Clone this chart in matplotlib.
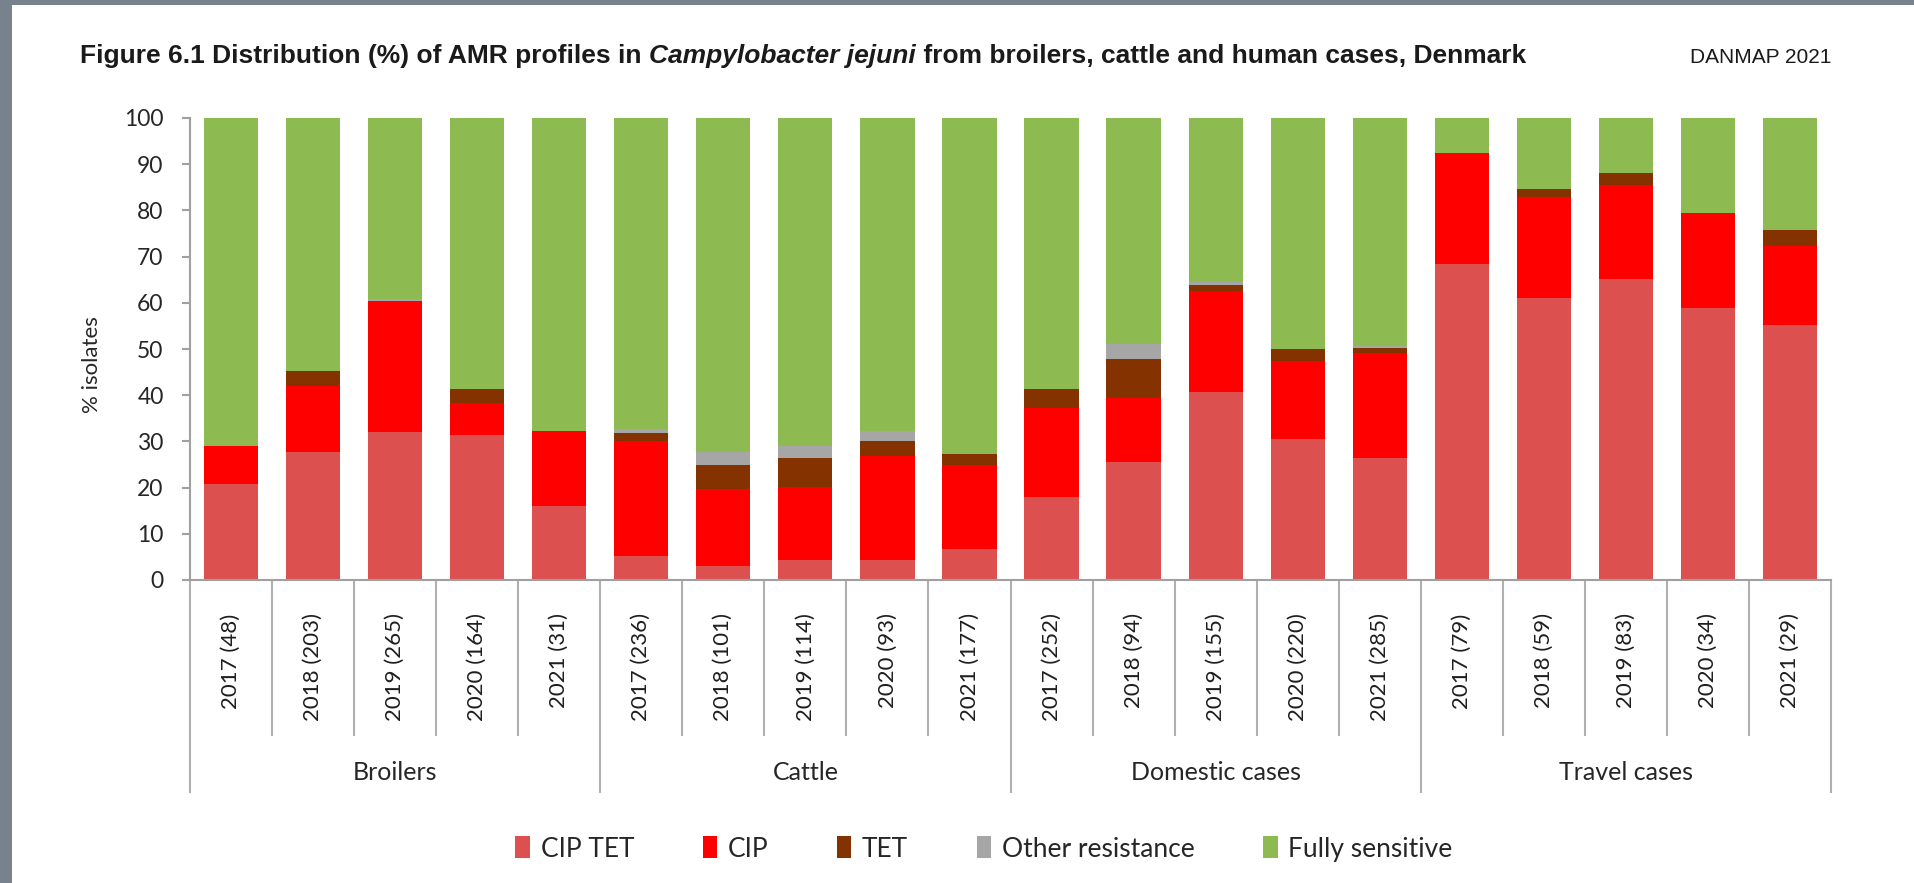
import matplotlib
matplotlib.use("Agg")
import matplotlib.pyplot as plt
from matplotlib.patches import Rectangle
from matplotlib.transforms import blended_transform_factory

groups = ["Broilers", "Cattle", "Domestic cases", "Travel cases"]
years = ["2017", "2018", "2019", "2020", "2021"]
n_isolates = [48, 203, 265, 164, 31,
              236, 101, 114, 93, 177,
              252, 94, 155, 220, 285,
              79, 59, 83, 34, 29]

# % of isolates per resistance profile
cip_tet = [20.8, 27.6, 32.1, 31.4, 16.1,
           5.1, 3.0, 4.4, 4.3, 6.8,
           17.9, 25.5, 40.6, 30.5, 26.3,
           68.4, 61.0, 65.1, 58.8, 55.2]
cip = [8.3, 14.3, 28.3, 6.9, 16.1,
       25.0, 16.8, 15.8, 22.6, 18.1,
       19.4, 13.8, 22.0, 16.8, 22.8,
       24.1, 22.0, 20.5, 20.6, 17.2]
tet = [0.0, 3.4, 0.0, 3.0, 0.0,
       1.7, 5.0, 6.1, 3.2, 2.3,
       4.0, 8.5, 1.3, 2.7, 1.1,
       0.0, 1.7, 2.4, 0.0, 3.4]
other = [0.0, 0.0, 0.4, 0.0, 0.0,
         0.8, 3.0, 2.6, 2.2, 0.0,
         0.0, 3.2, 0.6, 0.0, 0.4,
         0.0, 0.0, 0.0, 0.0, 0.0]
fully_sensitive = [70.9, 54.7, 39.2, 58.7, 67.8,
                   67.4, 72.2, 71.1, 67.7, 72.8,
                   58.7, 49.0, 35.5, 50.0, 49.4,
                   7.5, 15.3, 12.0, 20.6, 24.2]

series = [("CIP TET", cip_tet, "#dc5050"),
          ("CIP", cip, "#ff0000"),
          ("TET", tet, "#843200"),
          ("Other resistance", other, "#a6a6a6"),
          ("Fully sensitive", fully_sensitive, "#8dbb51")]

W, H = 1914, 883
plt.rcParams["font.family"] = ["Lato", "DejaVu Sans"]
fig = plt.figure(figsize=(W / 100, H / 100), dpi=100)
fig.patch.set_facecolor("#78828c")
fig.patches.append(Rectangle((12 / W, 0), 1, 1 - 5 / H, transform=fig.transFigure,
                             facecolor="white", edgecolor="none", zorder=-10))

ax = fig.add_axes([190 / W, 1 - 580 / H, (1831 - 190) / W, (580 - 118) / H])
ax.set_facecolor("white")

x = list(range(len(n_isolates)))
bottom = [0.0] * len(x)
handles = []
for name, vals, color in series:
    b = ax.bar(x, vals, width=0.66, bottom=bottom, color=color, label=name, linewidth=0)
    handles.append(b)
    bottom = [bo + v for bo, v in zip(bottom, vals)]

ax.set_xlim(-0.5, len(x) - 0.5)
ax.set_ylim(0, 100)
ax.set_yticks(range(0, 101, 10))
ax.tick_params(axis="y", labelsize=16.5, colors="#a0a0a0", labelcolor="#262626",
               length=6, width=1.5, pad=13)

labels = [f"{years[i % 5]} ({n})" for i, n in enumerate(n_isolates)]
ax.set_xticks(x)
ax.set_xticklabels(labels, rotation=90, va="top", ha="center", fontsize=16, color="#1e1e1e")
ax.tick_params(axis="x", length=0, pad=24)

for s in ["top", "right"]:
    ax.spines[s].set_visible(False)
for s in ["left", "bottom"]:
    ax.spines[s].set_color("#a0a0a0")
    ax.spines[s].set_linewidth(1.5)

trans = blended_transform_factory(ax.transData, ax.transAxes)
inner_end = -(735 - 580) / 462
group_end = -(792 - 580) / 462
for k in range(len(x) + 1):
    bx = k - 0.5
    yend = group_end if k % 5 == 0 else inner_end
    ax.plot([bx, bx], [0, yend], transform=trans, clip_on=False, color="#b0b0b0", lw=1.5)

for g, name in enumerate(groups):
    ax.text(g * 5 + 2, -(772 - 580) / 462, name, transform=trans, ha="center",
            va="center", fontsize=18, color="#262626")

fig.text(92 / W, 1 - 365 / H, "% isolates", rotation=90, ha="center", va="center",
         fontsize=16, color="#262626")

fig.legend(handles=handles, loc="center", bbox_to_anchor=(984 / W, 1 - 849 / H),
           ncol=5, frameon=False, fontsize=19, handlelength=0.55, handleheight=0.9,
           handletextpad=0.4, columnspacing=2.6, labelcolor="#262626")

# title with italic species name
renderer = fig.canvas.get_renderer()
parts = [("Figure 6.1 Distribution (%) of AMR profiles in ", "normal"),
         ("Campylobacter jejuni", "italic"),
         (" from broilers, cattle and human cases, Denmark", "normal")]
tx = 80
ty = 1 - 63 / H
for txt, style in parts:
    t = fig.text(tx / W, ty, txt, fontsize=19, fontweight="bold", style=style,
                 family="Liberation Sans", va="baseline", ha="left", color="#1a1a1a")
    tx += t.get_window_extent(renderer).width
fig.text(1831 / W, ty, "DANMAP 2021", fontsize=15, family="Liberation Sans",
         va="baseline", ha="right", color="#1a1a1a")

fig.savefig("out.png", dpi=100, facecolor=fig.get_facecolor())
